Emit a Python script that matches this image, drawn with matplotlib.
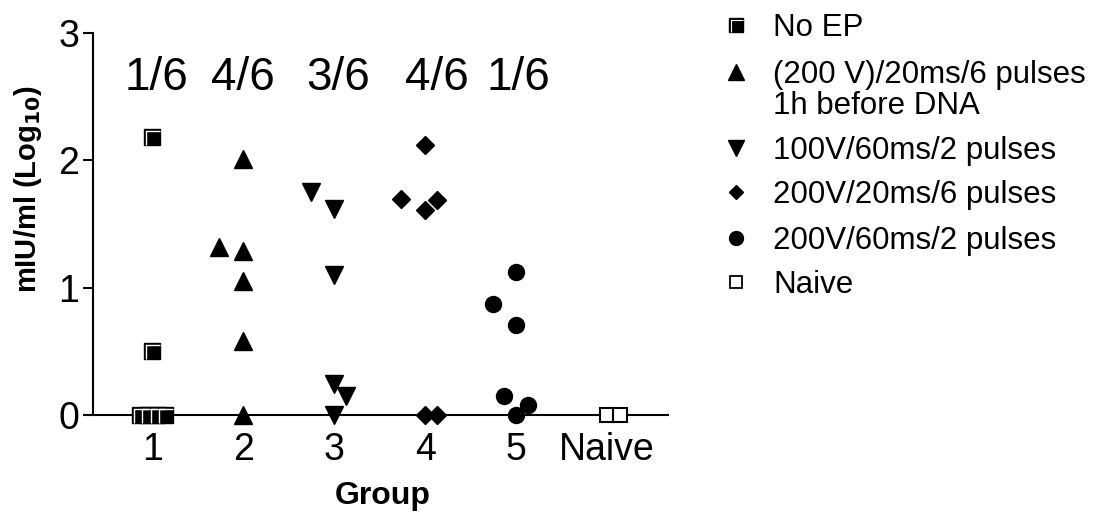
import matplotlib
matplotlib.use("Agg")
import matplotlib.pyplot as plt
from matplotlib.path import Path
from matplotlib.lines import Line2D

plt.rcParams['font.family'] = ['Liberation Sans', 'DejaVu Sans']

# group positions and tick labels
groups = [1, 2, 3, 4, 5, 6]
group_labels = ["1", "2", "3", "4", "5", "Naive"]
responders = ["1/6", "4/6", "3/6", "4/6", "1/6"]
responder_x = [1.05, 2.0, 3.04, 4.13, 5.03]

# log10 titres per group
g1_vals = [2.18, 0.50, 0, 0, 0, 0]
g2_vals = [2.01, 1.32, 1.29, 1.05, 0.58, 0]
g3_vals = [1.75, 1.62, 1.10, 0.24, 0.15, 0]
g4_vals = [2.12, 1.70, 1.69, 1.61, 0, 0]
g5_vals = [1.12, 0.87, 0.71, 0.15, 0.08, 0]
naive_vals = [0, 0]

# horizontal scatter of overlapping points
g1_jit = [0, 0, -0.13, -0.04, 0.05, 0.14]
g2_jit = [0, -0.26, 0, 0, 0, 0]
g3_jit = [-0.25, 0, 0, 0, 0.13, 0]
g4_jit = [0, -0.26, 0.13, 0, 0, 0.13]
g5_jit = [0, -0.25, 0, -0.13, 0.13, 0]
naive_jit = [0, 0.14]

legend_labels = ["No EP", "(200 V)/20ms/6 pulses", "100V/60ms/2 pulses",
                 "200V/20ms/6 pulses", "200V/60ms/2 pulses", "Naive"]

# white inner corner line drawn on the filled squares
corner = Path([(-0.55, -0.7), (-0.55, 0.55), (0.7, 0.55)],
              [Path.MOVETO, Path.LINETO, Path.LINETO])

W, H = 1096, 512
fig = plt.figure(figsize=(W / 100, H / 100), dpi=100)
ax = fig.add_axes([93 / W, 1 - 415 / H, 575 / W, 382 / H])

def xs(g, jit):
    return [g + j for j in jit]

ax.plot(xs(1, g1_jit), g1_vals, ls='none', marker='s', ms=11, mfc='black', mec='black', zorder=3, clip_on=False)
ax.plot(xs(1, g1_jit), g1_vals, ls='none', marker=corner, ms=11, mfc='none', mec='white', mew=1.0, zorder=4, clip_on=False)
ax.plot(xs(2, g2_jit), g2_vals, ls='none', marker='^', ms=13, color='black', zorder=3, clip_on=False)
ax.plot(xs(3, g3_jit), g3_vals, ls='none', marker='v', ms=13, color='black', zorder=3, clip_on=False)
ax.plot(xs(4, g4_jit), g4_vals, ls='none', marker='D', ms=9, color='black', zorder=3, clip_on=False)
ax.plot(xs(5, g5_jit), g5_vals, ls='none', marker='o', ms=11.5, color='black', zorder=3, clip_on=False)
ax.plot(xs(6, naive_jit), naive_vals, ls='none', marker='s', ms=9.5, mfc='white', mec='black', mew=1.5, zorder=3, clip_on=False)

for x, txt in zip(responder_x, responders):
    ax.text(x, 2.65, txt, ha='center', va='center', fontsize=33)

ax.set_xlim(0.35, 6.67)
ax.set_ylim(0, 3)
ax.set_yticks([0, 1, 2, 3])
ax.set_xticks(groups)
ax.set_xticklabels(group_labels)
ax.tick_params(axis='y', labelsize=27, length=7, width=1.5, pad=3)
ax.tick_params(axis='x', labelsize=27, length=0, pad=12)
for s in ['top', 'right']:
    ax.spines[s].set_visible(False)
for s in ['left', 'bottom']:
    ax.spines[s].set_linewidth(1.5)

fig.text(383 / W, 1 - 496 / H, "Group", fontsize=23, fontweight='bold', ha='center', va='center')
fig.text(28 / W, 1 - 189 / H, "mIU/ml (Log$_{\\mathbf{10}}$)", fontsize=21, fontweight='bold',
         rotation=90, ha='center', va='center')

# legend drawn by hand so the two-line entry lines up like the original
leg_rows = [25, 72, 148, 192, 238, 282]
leg_styles = [
    dict(marker='s', ms=9.5, mfc='black', mec='black'),
    dict(marker='^', ms=11.5, color='black'),
    dict(marker='v', ms=11.5, color='black'),
    dict(marker='D', ms=7.5, color='black'),
    dict(marker='o', ms=10, color='black'),
    dict(marker='s', ms=8.5, mfc='white', mec='black', mew=1.3),
]
text_shift = 3
for y, lab, st in zip(leg_rows, legend_labels, leg_styles):
    fy = 1 - y / H
    fig.add_artist(Line2D([736 / W], [fy], ls='none', transform=fig.transFigure, **st))
    fig.text(773 / W, 1 - (y + text_shift) / H, lab, fontsize=22.5, ha='left', va='center')
fig.add_artist(Line2D([736 / W], [1 - 25 / H], ls='none', marker=corner, ms=9.5, mfc='none',
                      mec='white', mew=0.8, transform=fig.transFigure))
fig.text(773 / W, 1 - (103 + text_shift) / H, "1h before DNA", fontsize=22.5, ha='left', va='center')

fig.savefig("out.png", dpi=100)
